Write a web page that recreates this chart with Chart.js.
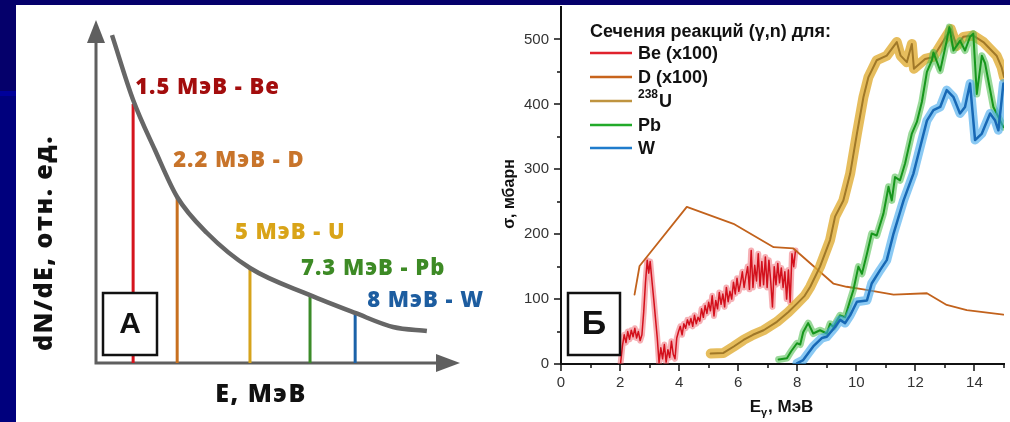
<!DOCTYPE html>
<html lang="ru">
<head>
<meta charset="utf-8">
<title>Спектр тормозного излучения и сечения реакций (γ,n)</title>
<script src="https://cdn.jsdelivr.net/npm/chart.js@4.4.1/dist/chart.umd.min.js"></script>
<style>
  html, body { margin: 0; padding: 0; }
  body { width: 1010px; height: 422px; overflow: hidden; position: relative; background: #05006b; }
  #edge { position: absolute; left: 0; top: 91px; width: 16px; height: 331px; background: #00007d; }
  #edgeLine { position: absolute; left: 0; top: 91px; width: 16px; height: 5px; background: #00009a; }
  #sheet { position: absolute; left: 16px; top: 5px; width: 994px; height: 417px; background: #fff; }
  canvas { position: absolute; top: 0; }
  #panelA { left: 0; }
  #panelB { left: 484px; }
</style>
</head>
<body>
<div id="edge"></div>
<div id="edgeLine"></div>
<div id="sheet">
  <canvas id="panelA" width="484" height="417"></canvas>
  <canvas id="panelB" width="510" height="417"></canvas>
</div>
<script>
// ---------- Panel A: schematic bremsstrahlung spectrum (arbitrary units) ----------
const spectrumE = [4.4, 10.2, 16.2, 22.3, 30.5, 42.3, 58.8, 71.2, 81.6, 90.9];
const spectrumN = [95.6, 76.7, 62.1, 48.4, 37.9, 27.7, 19.8, 14.6, 10.5, 9.3];
const thresholdE = [10.2, 22.3, 42.3, 58.8, 71.2];
const thresholdN = [75.5, 48.4, 27.7, 19.8, 14.6];
const thresholdLabels = ['1.5 МэВ - Be', '2.2 МэВ - D', '5 МэВ - U', '7.3 МэВ - Pb', '8 МэВ - W'];

// ---------- Panel B: (γ,n) cross sections, мбарн ----------
const xTickValues = [0, 2, 4, 6, 8, 10, 12, 14];
const xMinorTicks = [1, 3, 5, 7, 9, 11, 13, 15];
const yTickValues = [0, 100, 200, 300, 400, 500];
const yMinorTicks = [50, 150, 250, 350, 450];
const seriesLabels = ['Be (x100)', 'D (x100)', 'U', 'Pb', 'W'];
const seriesSup = ['', '', '238', '', ''];

const beE = [2.02, 2.08, 2.14, 2.20, 2.26, 2.32, 2.38, 2.44, 2.50, 2.56, 2.62, 2.68, 2.74, 2.80, 2.86, 2.92, 2.97,
  3.02, 3.08, 3.14, 3.20, 3.26, 3.32, 3.38, 3.44, 3.50, 3.56, 3.62, 3.68, 3.74, 3.80, 3.86, 3.92, 3.98,
  4.04, 4.10, 4.16, 4.22, 4.28, 4.34, 4.40, 4.46, 4.52, 4.58, 4.64, 4.70, 4.76, 4.82, 4.88, 4.94,
  5.00, 5.06, 5.12, 5.18, 5.24, 5.30, 5.36, 5.42, 5.48, 5.54, 5.60, 5.66, 5.72, 5.78, 5.84, 5.90, 5.96,
  6.02, 6.08, 6.14, 6.20, 6.26, 6.32, 6.38, 6.44, 6.50, 6.56, 6.62, 6.68, 6.74, 6.80, 6.86, 6.92, 6.98,
  7.04, 7.10, 7.16, 7.22, 7.28, 7.34, 7.40, 7.46, 7.52, 7.58, 7.64, 7.70, 7.76, 7.82, 7.88, 7.94];
const beS = [2, 28, 45, 33, 50, 38, 52, 42, 55, 40, 50, 36, 45, 80, 125, 160, 140,
  158, 128, 100, 70, 40, 2, 25, 8, 30, 3, 22, 10, 35, 15, 8, 40, 50,
  58, 45, 62, 55, 68, 60, 70, 58, 75, 62, 72, 66, 85, 72, 90, 78,
  95, 82, 105, 74, 98, 85, 110, 92, 108, 88, 118, 96, 112, 100, 126, 108, 132,
  112, 125, 142, 118, 135, 150, 115, 175, 118, 152, 128, 170, 120, 158, 122, 165, 118,
  160, 128, 88, 150, 122, 155, 125, 148, 118, 142, 100, 145, 95, 170, 150, 175];

const dE = [2.49, 2.66, 4.26, 5.84, 7.20, 7.87, 9.22, 9.67, 10.24, 11.26, 12.39, 13.06, 13.74, 14.98];
const dS = [107, 151, 242, 216, 180, 178, 124, 119, 115, 107, 109, 91, 83, 76];

const uE = [5.07, 5.50, 5.85, 6.18, 6.50, 6.86, 7.31, 7.70, 7.99, 8.25, 8.44, 8.77, 9.11, 9.28, 9.56, 9.79,
  10.02, 10.24, 10.41, 10.69, 11.03, 11.37, 11.50, 11.71, 11.88, 11.95, 12.33, 12.61, 12.95, 13.20,
  13.40, 13.62, 13.96, 14.30, 14.75, 14.92, 15.00];
const uS = [16, 17, 27, 37, 45, 52, 65, 80, 93, 105, 119, 150, 191, 227, 252, 293,
  355, 411, 442, 468, 475, 496, 475, 465, 493, 455, 470, 473, 498, 516,
  490, 504, 506, 496, 475, 457, 442];

const pbE = [7.37, 7.65, 7.80, 7.99, 8.10, 8.20, 8.37, 8.54, 8.77, 9.00, 9.11, 9.22, 9.45, 9.62, 9.79, 9.90,
  10.07, 10.19, 10.36, 10.52, 10.69, 10.92, 11.09, 11.20, 11.31, 11.48, 11.65, 11.88, 12.05, 12.22, 12.39,
  12.56, 12.61, 12.84, 13.06, 13.15, 13.29, 13.51, 13.68, 13.85, 13.96, 14.08, 14.25, 14.36, 14.64, 14.98];
const pbS = [7, 9, 20, 32, 30, 49, 63, 47, 52, 47, 62, 57, 75, 72, 98, 114,
  150, 139, 170, 201, 198, 232, 273, 252, 288, 283, 309, 355, 373, 404, 450,
  468, 480, 452, 498, 519, 483, 498, 483, 504, 509, 416, 475, 463, 396, 365];

const wE = [7.99, 8.20, 8.54, 8.83, 9.00, 9.28, 9.45, 9.62, 9.79, 10.02, 10.36, 10.52, 10.81, 11.03, 11.26,
  11.60, 11.93, 12.16, 12.39, 12.61, 12.84, 13.06, 13.29, 13.51, 13.68, 13.85, 14.02, 14.25, 14.53,
  14.70, 14.81, 14.98];
const wS = [1, 6, 27, 40, 42, 57, 68, 63, 75, 96, 98, 124, 145, 160, 201,
  252, 293, 334, 375, 391, 396, 422, 411, 386, 396, 432, 345, 355, 386,
  375, 360, 432];

// ---------- styling ----------
const fontA = '"Open Sans", "DejaVu Sans", sans-serif';
const fontB = '"Liberation Sans", Arial, sans-serif';
const axisGray = '#5f5f5f';
const thresholdColors = ['#d5141d', '#c8701f', '#d6a31c', '#3b8b29', '#1b62a9'];
const thresholdTextColors = ['#a30d0d', '#c8742a', '#d9a418', '#3d8a25', '#1d5da0'];
const labelOffsets = [[2, -16], [-4, -36], [-15, -35], [-9, -26], [12, -12]];

const pts = (xs, ys) => xs.map((x, i) => ({ x, y: ys[i] }));

function drawBoxLetter(ctx, x0, y0, x1, y1, letter, size) {
  ctx.save();
  ctx.fillStyle = '#fff';
  ctx.fillRect(x0, y0, x1 - x0, y1 - y0);
  ctx.strokeStyle = '#111';
  ctx.lineWidth = 2.5;
  ctx.strokeRect(x0, y0, x1 - x0, y1 - y0);
  ctx.fillStyle = '#111';
  ctx.font = '700 ' + size + 'px ' + fontB;
  ctx.textAlign = 'center';
  ctx.textBaseline = 'middle';
  ctx.fillText(letter, (x0 + x1) / 2, (y0 + y1) / 2 + 1);
  ctx.restore();
}

// axes with arrowheads, threshold captions, axis titles
const schemeDecor = {
  id: 'schemeDecor',
  beforeDatasetsDraw(chart) {
    const { ctx, chartArea: a } = chart;
    ctx.save();
    ctx.strokeStyle = axisGray;
    ctx.fillStyle = axisGray;
    ctx.lineWidth = 3;
    ctx.beginPath();
    ctx.moveTo(a.left, a.bottom + 1.5);
    ctx.lineTo(a.left, a.top + 20);
    ctx.moveTo(a.left - 1.5, a.bottom);
    ctx.lineTo(a.right - 20, a.bottom);
    ctx.stroke();
    ctx.beginPath();
    ctx.moveTo(a.left, a.top);
    ctx.lineTo(a.left - 9, a.top + 23);
    ctx.lineTo(a.left + 9, a.top + 23);
    ctx.closePath();
    ctx.fill();
    ctx.beginPath();
    ctx.moveTo(a.right, a.bottom);
    ctx.lineTo(a.right - 24, a.bottom - 9);
    ctx.lineTo(a.right - 24, a.bottom + 9);
    ctx.closePath();
    ctx.fill();
    ctx.restore();
  },
  afterDatasetsDraw(chart) {
    const { ctx, scales: { x, y } } = chart;
    drawBoxLetter(ctx, 87, 288, 141, 350, 'А', 30);
    ctx.save();
    ctx.font = '800 22px ' + fontA;
    ctx.letterSpacing = '1px';
    ctx.textBaseline = 'middle';
    ctx.textAlign = 'left';
    thresholdLabels.forEach((t, i) => {
      ctx.fillStyle = thresholdTextColors[i];
      ctx.fillText(t, x.getPixelForValue(thresholdE[i]) + labelOffsets[i][0],
        y.getPixelForValue(thresholdN[i]) + labelOffsets[i][1]);
    });
    ctx.fillStyle = '#111';
    ctx.font = '800 25px ' + fontA;
    ctx.letterSpacing = '1.5px';
    ctx.textAlign = 'center';
    ctx.fillText('E, МэВ', 245, 390);
    ctx.translate(29, 238);
    ctx.rotate(-Math.PI / 2);
    ctx.letterSpacing = '1.5px';
    ctx.fillText('dN/dE, отн. ед.', 0, 0);
    ctx.restore();
  }
};

new Chart(document.getElementById('panelA'), {
  type: 'line',
  data: {
    datasets: [
      { data: pts(spectrumE, spectrumN), borderColor: '#666', borderWidth: 4.5, cubicInterpolationMode: 'monotone',
        pointRadius: 0, order: 0, clip: false },
      ...thresholdE.map((e, i) => ({
        data: [{ x: e, y: 0 }, { x: e, y: thresholdN[i] }],
        borderColor: thresholdColors[i], borderWidth: 3, pointRadius: 0, order: 1, clip: false
      }))
    ]
  },
  options: {
    responsive: false, animation: false, devicePixelRatio: 1,
    layout: { padding: { left: 80, right: 40, top: 15, bottom: 59 } },
    scales: {
      x: { type: 'linear', min: 0, max: 100, display: false },
      y: { type: 'linear', min: 0, max: 100, display: false }
    },
    plugins: { legend: { display: false }, tooltip: { enabled: false } }
  },
  plugins: [schemeDecor]
});

// ---------- Panel B ----------
const lineColors = ['#d3101c', '#c2621c', '#a07828', '#16961c', '#1768b5'];
const legendColors = ['#e0222c', '#c8641c', '#bf9440', '#22aa2a', '#1f7ccc'];

const crossDecor = {
  id: 'crossDecor',
  afterDraw(chart) {
    const { ctx, chartArea: a, scales: { x, y } } = chart;
    ctx.save();
    // outward tick marks
    ctx.strokeStyle = '#111';
    ctx.lineWidth = 1.5;
    ctx.beginPath();
    xTickValues.forEach(v => { const p = Math.round(x.getPixelForValue(v)); ctx.moveTo(p, a.bottom); ctx.lineTo(p, a.bottom + 7); });
    xMinorTicks.forEach(v => { const p = Math.round(x.getPixelForValue(v)); ctx.moveTo(p, a.bottom); ctx.lineTo(p, a.bottom + 4); });
    yTickValues.forEach(v => { const p = Math.round(y.getPixelForValue(v)); ctx.moveTo(a.left, p); ctx.lineTo(a.left - 7, p); });
    yMinorTicks.forEach(v => { const p = Math.round(y.getPixelForValue(v)); ctx.moveTo(a.left, p); ctx.lineTo(a.left - 4, p); });
    ctx.stroke();

    // legend
    ctx.fillStyle = '#111';
    ctx.textBaseline = 'middle';
    ctx.textAlign = 'left';
    ctx.font = '700 18px ' + fontB;
    ctx.fillText('Сечения реакций (γ,n) для:', 90, 27);
    const rows = [48, 72, 96, 120, 143];
    seriesLabels.forEach((lab, i) => {
      ctx.strokeStyle = legendColors[i];
      ctx.lineWidth = 2.5;
      ctx.beginPath();
      ctx.moveTo(90, rows[i]);
      ctx.lineTo(132, rows[i]);
      ctx.stroke();
      let tx = 138;
      if (seriesSup[i]) {
        ctx.font = '700 12px ' + fontB;
        ctx.fillText(seriesSup[i], tx, rows[i] - 6);
        tx += ctx.measureText(seriesSup[i]).width + 1;
      }
      ctx.font = '700 18px ' + fontB;
      ctx.fillText(lab, tx, rows[i] + 1);
    });

    // axis titles
    ctx.font = '700 16px ' + fontB;
    ctx.textAlign = 'center';
    ctx.save();
    ctx.translate(10, 189);
    ctx.rotate(-Math.PI / 2);
    ctx.fillText('σ, мбарн', 0, 0);
    ctx.restore();
    ctx.textAlign = 'left';
    const big = '700 17px ' + fontB, small = '700 11px ' + fontB;
    ctx.font = big; const w1 = ctx.measureText('E').width;
    ctx.font = small; const w2 = ctx.measureText('γ').width;
    ctx.font = big; const w3 = ctx.measureText(', МэВ').width;
    let sx = 281 - (w1 + w2 + w3) / 2;
    ctx.font = big; ctx.fillText('E', sx, 402);
    ctx.font = small; ctx.fillText('γ', sx + w1, 408);
    ctx.font = big; ctx.fillText(', МэВ', sx + w1 + w2 + 1, 402);
    ctx.restore();

    drawBoxLetter(ctx, 68, 288, 120, 350, 'Б', 34);
  }
};

const bandSet = (xs, ys, color, width, order) => ({
  data: pts(xs, ys), borderColor: color, borderWidth: width, pointRadius: 0,
  borderJoinStyle: 'round', borderCapStyle: 'round', order
});

new Chart(document.getElementById('panelB'), {
  type: 'line',
  data: {
    datasets: [
      bandSet(beE, beS, 'rgba(236,80,90,0.45)', 6, 10),
      bandSet(beE, beS, lineColors[0], 1.5, 9),
      bandSet(dE, dS, lineColors[1], 1.8, 8),
      bandSet(uE, uS, 'rgba(224,172,52,0.8)', 10, 7),
      bandSet(uE, uS, lineColors[2], 2, 6),
      bandSet(pbE, pbS, 'rgba(70,185,70,0.55)', 7, 5),
      bandSet(pbE, pbS, lineColors[3], 2, 4),
      bandSet(wE, wS, 'rgba(60,165,235,0.6)', 9, 3),
      bandSet(wE, wS, lineColors[4], 2.5, 2)
    ]
  },
  options: {
    responsive: false, animation: false, devicePixelRatio: 1,
    layout: { padding: { left: 0, right: 6, top: 2, bottom: 0 } },
    scales: {
      x: {
        type: 'linear', min: 0, max: 15,
        grid: { display: false, drawTicks: false },
        border: { display: true, color: '#111', width: 2 },
        ticks: { font: { family: fontB, size: 15 }, color: '#333', padding: 10, maxRotation: 0, autoSkip: false },
        afterBuildTicks: s => { s.ticks = xTickValues.map(v => ({ value: v })); },
        afterFit: s => { s.height = 58; s.paddingLeft = 0; s.paddingRight = 0; }
      },
      y: {
        type: 'linear', min: 0, max: 550,
        grid: { display: false, drawTicks: false },
        border: { display: true, color: '#111', width: 2 },
        ticks: { font: { family: fontB, size: 15 }, color: '#333', padding: 12, autoSkip: false },
        afterBuildTicks: s => { s.ticks = yTickValues.map(v => ({ value: v })); },
        afterFit: s => { s.width = 61; s.paddingTop = 0; s.paddingBottom = 0; }
      }
    },
    plugins: { legend: { display: false }, tooltip: { enabled: false } }
  },
  plugins: [crossDecor]
});
</script>
</body>
</html>
